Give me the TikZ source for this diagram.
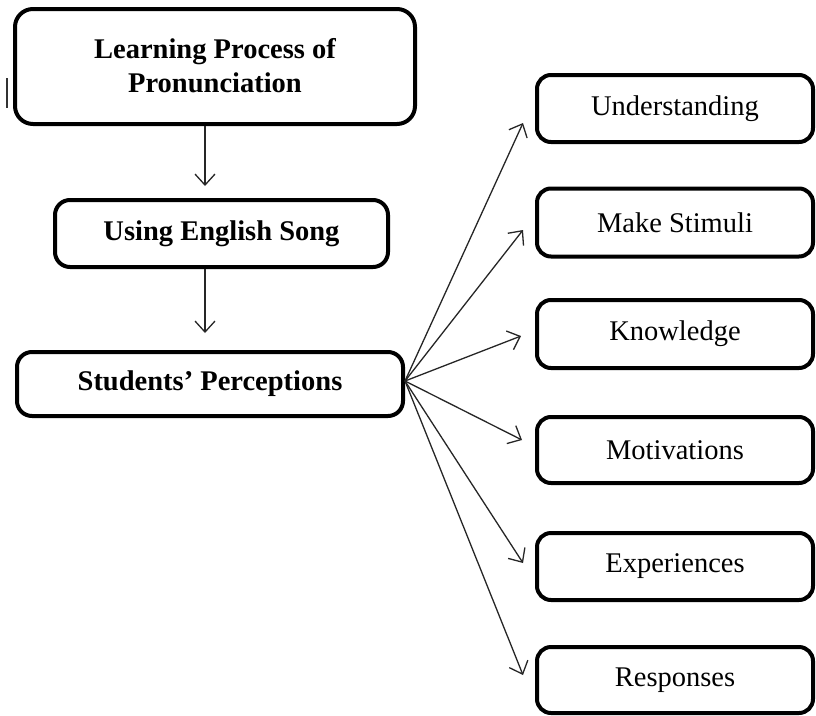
\documentclass[tikz,border=0pt]{standalone}
\usepackage{fontspec}
\setmainfont{Liberation Serif}
\usetikzlibrary{arrows.meta}
\tikzset{
  boxbase/.style={draw=black, line width=4pt, fill=white, inner sep=0pt, align=center},
  leftbox/.style={boxbase, rounded corners=18pt, font=\fontsize{28.5}{34}\selectfont\bfseries},
  rightbox/.style={boxbase, rounded corners=14pt, minimum width=276pt, font=\fontsize{28.5}{34}\selectfont},
  arr/.style={draw=black!85, line width=1.3pt, -{Straight Barb[length=11pt,width=20pt,line width=1.3pt]}},
}
\begin{document}
\begin{tikzpicture}[x=1pt,y=-1pt]
\useasboundingbox (0,0) rectangle (816,715);
% left column
\node[leftbox, minimum width=400pt, minimum height=115pt] (b1) at (215,66.5) {\raisebox{3pt}{Learning Process of}\\\raisebox{3pt}{Pronunciation}};
\node[leftbox, minimum width=333pt, minimum height=67pt, rounded corners=15pt] (b2) at (221.5,233.5) {Using English Song};
\node[leftbox, minimum width=386pt, minimum height=64pt, rounded corners=15pt] (b3) at (210,384) {Students' Perceptions};
% stray mark
\coordinate (m1) at (7,78);
\coordinate (m2) at (7,108);
\draw[line width=1.5pt, black!80] (m1) -- (m2);
% vertical arrows
\coordinate (ax) at (205,0);
\draw[arr, shorten >=12pt] (b1.south -| ax) -- (b2.north -| ax);
\draw[arr, shorten >=17pt] (b2.south -| ax) -- (b3.north -| ax);
% right column
\node[rightbox, minimum height=67pt] (r1) at (675,108.5) {Understanding};
\node[rightbox, minimum height=68pt] (r2) at (675,222.5) {Make Stimuli};
\node[rightbox, minimum height=68pt] (r3) at (675,334) {Knowledge};
\node[rightbox, minimum height=66pt] (r4) at (675,450) {Motivations};
\node[rightbox, minimum height=67pt] (r5) at (675,566.5) {Experiences};
\node[rightbox, minimum height=66pt] (r6) at (675,680) {Responses};
% fan arrows
\coordinate (o) at (405,381);
\coordinate (t1) at (523,123);
\coordinate (t2) at (523,230);
\coordinate (t3) at (521,336);
\coordinate (t4) at (522,440);
\coordinate (t5) at (523,563);
\coordinate (t6) at (523,675);
\foreach \t in {t1,t2,t3,t4,t5,t6} {\draw[arr] (o) -- (\t);}
\end{tikzpicture}
\end{document}
